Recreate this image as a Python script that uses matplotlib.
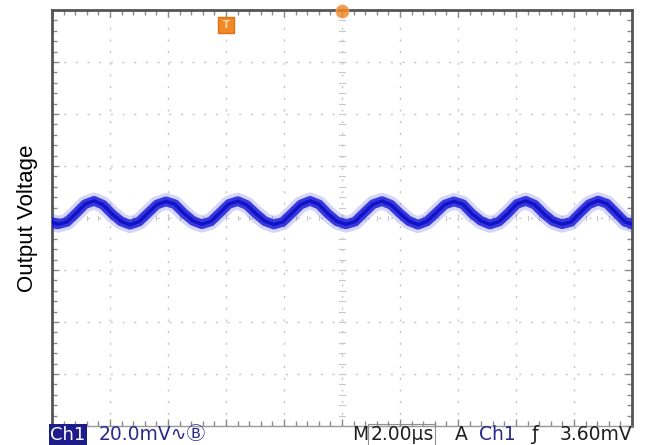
import matplotlib.pyplot as plt
from matplotlib.ticker import MultipleLocator

# scope settings: 2.00 us/div, 20.0 mV/div, 10 x 8 divisions
time_div = 2.0
volt_div = 20.0
n_hdiv = 10
n_vdiv = 8

# ripple (time in us, voltage in mV)
t_us = [-0.10, 0.21, 0.52, 0.83, 1.14, 1.45, 1.76, 2.07,
        2.38, 2.69, 3.00, 3.31, 3.62, 3.93, 4.24, 4.55,
        4.86, 5.17, 5.48, 5.79, 6.10, 6.41, 6.72, 7.03,
        7.34, 7.65, 7.96, 8.27, 8.58, 8.90, 9.21, 9.52,
        9.83, 10.14, 10.45, 10.76, 11.07, 11.38, 11.69, 12.00,
        12.31, 12.62, 12.93, 13.24, 13.55, 13.86, 14.17, 14.48,
        14.79, 15.10, 15.41, 15.72, 16.03, 16.34, 16.65, 16.96,
        17.27, 17.59, 17.90, 18.21, 18.52, 18.83, 19.14, 19.45,
        19.76, 20.07]
v_mv = [-1.2, -2.4, -1.5, 1.8, 5.3, 6.6, 5.1, 1.6,
        -1.3, -2.6, -1.4, 1.9, 5.2, 6.4, 5.3, 1.8,
        -1.1, -2.4, -1.3, 2.0, 5.4, 6.5, 5.0, 1.7,
        -1.2, -2.5, -1.5, 1.8, 5.2, 6.6, 5.2, 1.6,
        -1.3, -2.4, -1.4, 2.0, 5.3, 6.5, 5.1, 1.8,
        -1.2, -2.6, -1.3, 1.9, 5.2, 6.4, 5.3, 1.7,
        -1.1, -2.5, -1.4, 1.8, 5.4, 6.6, 5.1, 1.6,
        -1.2, -2.4, -1.5, 2.0, 5.3, 6.7, 5.5, 2.0,
        -1.5, -2.5]

# marker positions on the top edge (us)
trig_pos_us = 6.0
horiz_pos_us = 10.0

t_max = time_div * n_hdiv
v_half = volt_div * n_vdiv / 2

fig = plt.figure(figsize=(6.45, 4.45), dpi=100)
ax = fig.add_axes([0.0806, 0.0427, 0.8992, 0.9348])

ax.set_xlim(0, t_max)
ax.set_ylim(-v_half, v_half)

# trace: soft fuzz + solid core
ax.plot(t_us, v_mv, color="#4040e8", lw=12, alpha=0.22, solid_capstyle="butt", zorder=3)
ax.plot(t_us, v_mv, color="#1c1cdc", lw=7, alpha=0.85, solid_capstyle="butt", zorder=3)
ax.plot(t_us, v_mv, color="#0a0ac0", lw=2.5, alpha=0.8, zorder=3)

# dotted graticule
ax.xaxis.set_major_locator(MultipleLocator(time_div))
ax.yaxis.set_major_locator(MultipleLocator(volt_div))
ax.xaxis.set_minor_locator(MultipleLocator(time_div / 5))
ax.yaxis.set_minor_locator(MultipleLocator(volt_div / 5))
ax.grid(True, which="major", color="#c4c4c4", lw=1.0, linestyle=(0, (1.5, 6.9)))
ax.set_axisbelow(True)

# centre cross with small ticks
for k in range(1, n_hdiv * 5):
    tx = k * time_div / 5
    ax.plot([tx, tx], [-0.9, 0.9], color="#c8c8c8", lw=0.8, zorder=1)
for k in range(1, n_vdiv * 5):
    vy = -v_half + k * volt_div / 5
    ax.plot([t_max / 2 - 0.09, t_max / 2 + 0.09], [vy, vy], color="#c8c8c8", lw=0.8, zorder=1)

ax.tick_params(which="both", direction="in", top=True, right=True,
               labelbottom=False, labelleft=False, color="#8a8a8a")
ax.tick_params(which="major", length=5, width=1)
ax.tick_params(which="minor", length=3.5, width=1)

for side in ["top", "left", "right"]:
    ax.spines[side].set_color("#555555")
    ax.spines[side].set_linewidth(2)
ax.spines["bottom"].set_color("#999999")
ax.spines["bottom"].set_linewidth(1)

# top markers
trig_y = v_half - 0.29 * volt_div
ax.plot([trig_pos_us], [trig_y], marker="s", ms=11,
        color="#f08a28", mec="#e07010", clip_on=False, zorder=4)
ax.text(trig_pos_us, trig_y, "T", color="#ffd8a0",
        fontsize=7, ha="center", va="center", fontweight="bold", zorder=5)
ax.plot([horiz_pos_us], [v_half - 0.5], marker="o", ms=9, color="#f08a28",
        mec="#f0a060", alpha=0.85, clip_on=False, zorder=4)

ax.set_ylabel("Output Voltage", fontsize=16, family="Liberation Sans", labelpad=10)

# readout line under the screen
fs = 13.5
fam = ["DejaVu Sans", "Noto Sans CJK SC"]
ty = 0.0225
fig.text(0.078, ty, "Ch1", color="white", fontsize=13, family=fam,
         ha="left", va="center",
         bbox=dict(boxstyle="square,pad=0.1", fc="#1c1c8a", ec="none"))
fig.text(0.1535, ty, "20.0mV\u223f\u24b7", color="#2a2a8c", fontsize=fs,
         family=fam, ha="left", va="center")
fig.text(0.546, ty, "M", color="#202020", fontsize=fs, family=fam,
         ha="left", va="center")
fig.text(0.574, ty, "2.00\u00b5s", color="#202020", fontsize=fs, family=fam,
         ha="left", va="center",
         bbox=dict(boxstyle="square,pad=0.1", fc="none", ec="#909090", lw=0.8))
fig.text(0.705, ty, "A", color="#202020", fontsize=fs, family=fam,
         ha="left", va="center")
fig.text(0.743, ty, "Ch1", color="#2a2a8c", fontsize=fs, family=fam,
         ha="left", va="center")
fig.text(0.823, ty, "\u0192", color="#202020", fontsize=fs, family=fam,
         ha="left", va="center")
fig.text(0.980, ty, "3.60mV", color="#202020", fontsize=fs, family=fam,
         ha="right", va="center")

fig.savefig("out.png", dpi=100)
